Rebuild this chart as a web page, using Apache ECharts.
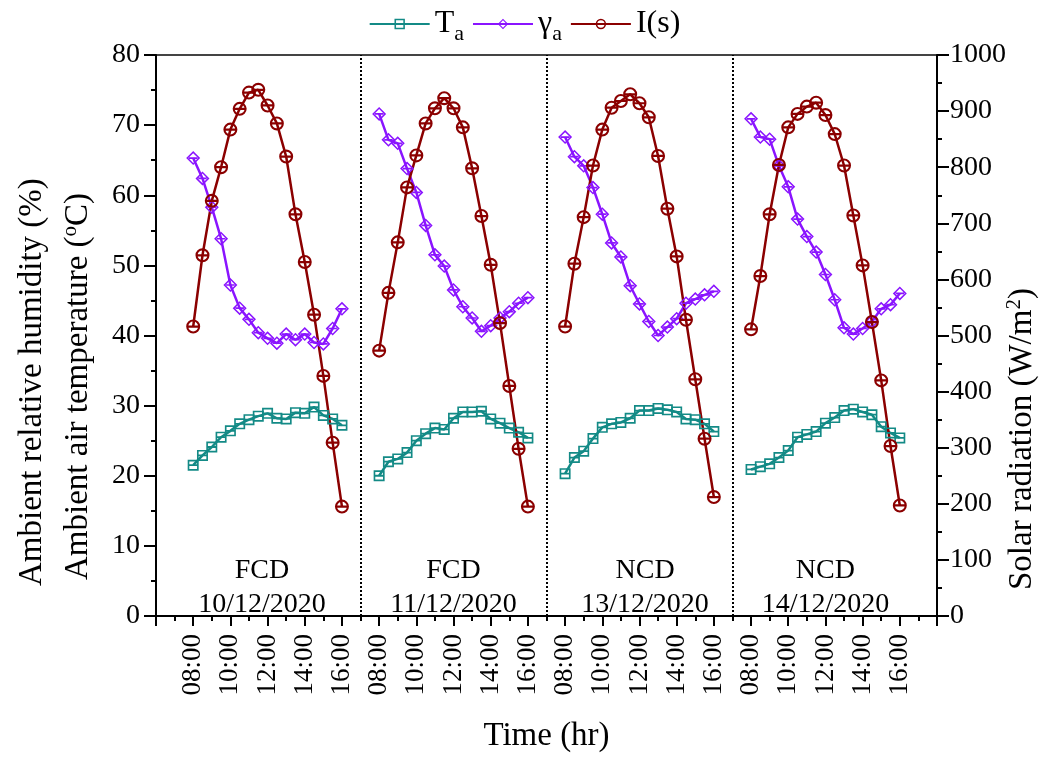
<!DOCTYPE html>
<html>
<head>
<meta charset="utf-8">
<script src="https://cdn.jsdelivr.net/npm/echarts@6/dist/echarts.min.js"></script>
<style>
  html, body { margin: 0; padding: 0; background: #fff; }
  #chart { width: 1049px; height: 758px; }
</style>
</head>
<body>
<div id="chart"></div>
<script>
// x axis: one unit = one hour, each day panel starts at 08:00
var panelStarts = [2, 12, 22, 32];      // position of 08:00 in each panel
var panelSeps = [11, 21, 31];           // dotted separators
var timeLabels = ['08:00', '10:00', '12:00', '14:00', '16:00'];
var panelCodes = ['FCD', 'FCD', 'NCD', 'NCD'];
var panelDates = ['10/12/2020', '11/12/2020', '13/12/2020', '14/12/2020'];
var panelTextX = [5.7, 16, 26.3, 36];

// readings every 30 min, 08:00 - 16:00
var ta1 = [21.5, 22.9, 24.1, 25.5, 26.4, 27.4, 28.0, 28.5, 28.9, 28.2, 28.1, 29.0, 28.9, 29.8, 28.6, 28.1, 27.2];
var ta2 = [20.0, 22.0, 22.4, 23.3, 25.0, 26.0, 26.8, 26.6, 28.2, 29.1, 29.1, 29.2, 28.1, 27.5, 26.8, 26.2, 25.4];
var ta3 = [20.3, 22.6, 23.5, 25.3, 26.9, 27.4, 27.6, 28.2, 29.3, 29.3, 29.6, 29.4, 29.1, 28.1, 28.0, 27.4, 26.3];
var ta4 = [20.9, 21.3, 21.7, 22.6, 23.6, 25.5, 25.9, 26.3, 27.5, 28.3, 29.3, 29.5, 29.1, 28.7, 27.0, 26.1, 25.4];

var rh1 = [65.3, 62.4, 58.3, 53.8, 47.2, 43.9, 42.3, 40.4, 39.6, 38.9, 40.2, 39.4, 40.2, 39.0, 38.8, 41.0, 43.8];
var rh2 = [71.6, 67.9, 67.4, 63.8, 60.4, 55.7, 51.5, 49.9, 46.5, 44.1, 42.5, 40.6, 41.4, 42.5, 43.4, 44.6, 45.4];
var rh3 = [68.3, 65.5, 64.2, 61.1, 57.3, 53.2, 51.2, 47.1, 44.5, 42.0, 40.0, 41.2, 42.4, 44.6, 45.2, 45.8, 46.3];
var rh4 = [70.9, 68.3, 68.0, 64.2, 61.2, 56.6, 54.1, 51.9, 48.7, 45.1, 41.1, 40.2, 41.0, 42.0, 43.8, 44.4, 46.0];

var sr1 = [516, 643, 740, 800, 867, 904, 933, 938, 910, 878, 819, 716, 631, 537, 428, 309, 195];
var sr2 = [473, 576, 666, 764, 821, 878, 905, 923, 905, 871, 798, 713, 626, 522, 410, 298, 195];
var sr3 = [516, 628, 711, 803, 867, 906, 918, 930, 914, 889, 820, 726, 641, 528, 422, 316, 212];
var sr4 = [511, 606, 716, 804, 871, 895, 908, 915, 893, 859, 803, 714, 625, 524, 420, 303, 197];

var FONT = "'Times New Roman', 'Liberation Serif', serif";
var cTa = '#138a86', cRh = '#8a14ff', cSr = '#8b0000';

var symSquare = 'path://M-10,-10H10V10H-10ZM-7,-7V7H7V-7ZM-8,-1.6H8V1.6H-8Z';
var symDiamond = 'path://M0,-10L10,0L0,10L-10,0ZM0,-7L-7,0L0,7L7,0ZM-6,-1.2H6V1.2H-6Z';
var symCircle = 'path://M0,-10A10,10,0,1,1,0,10A10,10,0,1,1,0,-10ZM0,-7A7,7,0,1,0,0,7A7,7,0,1,0,0,-7ZM-8,-1.6H8V1.6H-8Z';

function joinDays(days) {
    var d = [];
    for (var p = 0; p < days.length; p++) {
        for (var i = 0; i < days[p].length; i++) {
            d.push([panelStarts[p] + i * 0.5, days[p][i]]);
        }
        if (p < days.length - 1) d.push([panelSeps[p], '-']);
    }
    return d;
}

function timeLabel(v) {
    for (var p = 0; p < panelStarts.length; p++) {
        var k = (v - panelStarts[p]) / 2;
        if (k >= 0 && k < timeLabels.length && k === Math.round(k)) return timeLabels[k];
    }
    return '';
}

var myChart = echarts.init(document.getElementById('chart'));

var option = {
    backgroundColor: '#fff',
    animation: false,
    textStyle: { fontFamily: FONT, color: '#000' },
    legend: {
        data: ['Ta', 'γa', 'I(s)'],
        top: 3,
        left: 'center',
        itemWidth: 60,
        itemHeight: 13,
        itemGap: 8,
        textStyle: {
            fontFamily: FONT, fontSize: 32, color: '#000',
            rich: { sub: { fontFamily: FONT, fontSize: 22, padding: [20, 0, 0, 0] } }
        },
        formatter: function (name) {
            if (name === 'Ta') return 'T{sub|a}';
            if (name === 'γa') return 'γ{sub|a}';
            return name;
        }
    },
    grid: {
        left: 156, right: 112, top: 55, bottom: 134,
        show: true, borderColor: '#444', borderWidth: 2
    },
    xAxis: {
        type: 'value',
        min: 0, max: 42, interval: 2,
        name: 'Time (hr)',
        nameLocation: 'middle',
        nameGap: 104,
        nameTextStyle: { fontFamily: FONT, fontSize: 33, color: '#000' },
        axisLine: { lineStyle: { color: '#000', width: 2 } },
        axisTick: { length: 10, lineStyle: { color: '#000', width: 2 } },
        minorTick: { show: true, splitNumber: 2, length: 5, lineStyle: { color: '#000', width: 2 } },
        splitLine: { show: false },
        axisLabel: {
            rotate: 90, margin: 18,
            fontFamily: FONT, fontSize: 27, color: '#000',
            formatter: timeLabel
        }
    },
    yAxis: [
        {
            type: 'value', min: 0, max: 80, interval: 10,
            axisLine: { show: true, lineStyle: { color: '#000', width: 2 } },
            axisTick: { show: true, length: 12, lineStyle: { color: '#000', width: 2 } },
            minorTick: { show: true, splitNumber: 2, length: 5, lineStyle: { color: '#000', width: 2 } },
            splitLine: { show: false },
            axisLabel: { margin: 16, fontFamily: FONT, fontSize: 28, color: '#000' }
        },
        {
            type: 'value', min: 0, max: 1000, interval: 100, position: 'right',
            axisLine: { show: true, lineStyle: { color: '#000', width: 2 } },
            axisTick: { show: true, length: 12, lineStyle: { color: '#000', width: 2 } },
            minorTick: { show: true, splitNumber: 2, length: 5, lineStyle: { color: '#000', width: 2 } },
            splitLine: { show: false },
            axisLabel: {
                margin: 13, fontFamily: FONT, fontSize: 28, color: '#000',
                formatter: function (v) { return String(v); }
            }
        }
    ],
    graphic: [
        {
            type: 'text', x: 32, y: 586, rotation: Math.PI / 2,
            style: { text: 'Ambient relative humidity (%)', font: '33px ' + FONT, fill: '#000', align: 'left', verticalAlign: 'middle' }
        },
        {
            type: 'text', x: 78, y: 580, rotation: Math.PI / 2,
            style: {
                text: 'Ambient air temperature ({sup|o}C)', font: '33px ' + FONT, fill: '#000', align: 'left', verticalAlign: 'middle',
                rich: { sup: { font: '21px ' + FONT, fill: '#000', padding: [0, 0, 15, 0] } }
            }
        },
        {
            type: 'text', x: 1022, y: 590, rotation: Math.PI / 2,
            style: {
                text: 'Solar radiation (W/m{sup|2})', font: '33px ' + FONT, fill: '#000', align: 'left', verticalAlign: 'middle',
                rich: { sup: { font: '21px ' + FONT, fill: '#000', padding: [0, 0, 15, 0] } }
            }
        }
    ],
    series: [
        {
            name: 'Ta', type: 'line', yAxisIndex: 0,
            data: joinDays([ta1, ta2, ta3, ta4]),
            connectNulls: false,
            symbol: symSquare, symbolSize: 11,
            lineStyle: { color: cTa, width: 2.5 },
            itemStyle: { color: cTa },
            markLine: {
                silent: true, symbol: ['none', 'none'],
                label: { show: false },
                lineStyle: { color: '#000', type: 'dotted', width: 2 },
                data: panelSeps.map(function (s) { return { xAxis: s }; })
            }
        },
        {
            name: 'γa', type: 'line', yAxisIndex: 0,
            data: joinDays([rh1, rh2, rh3, rh4]),
            connectNulls: false,
            symbol: symDiamond, symbolSize: 14,
            lineStyle: { color: cRh, width: 2.5 },
            itemStyle: { color: cRh }
        },
        {
            name: 'I(s)', type: 'line', yAxisIndex: 1,
            data: joinDays([sr1, sr2, sr3, sr4]),
            connectNulls: false,
            symbol: symCircle, symbolSize: 14,
            lineStyle: { color: cSr, width: 2.5 },
            itemStyle: { color: cSr }
        },
        {
            name: 'panels', type: 'scatter', yAxisIndex: 0, silent: true,
            symbolSize: 0,
            itemStyle: { opacity: 1 },
            data: panelTextX.map(function (x) { return [x, 4.0]; }),
            label: {
                show: true, position: 'inside', opacity: 1,
                fontFamily: FONT, fontSize: 28, lineHeight: 34, color: '#000',
                formatter: function (p) {
                    return panelCodes[p.dataIndex] + '\n' + panelDates[p.dataIndex];
                }
            }
        }
    ]
};

myChart.setOption(option);
</script>
</body>
</html>
